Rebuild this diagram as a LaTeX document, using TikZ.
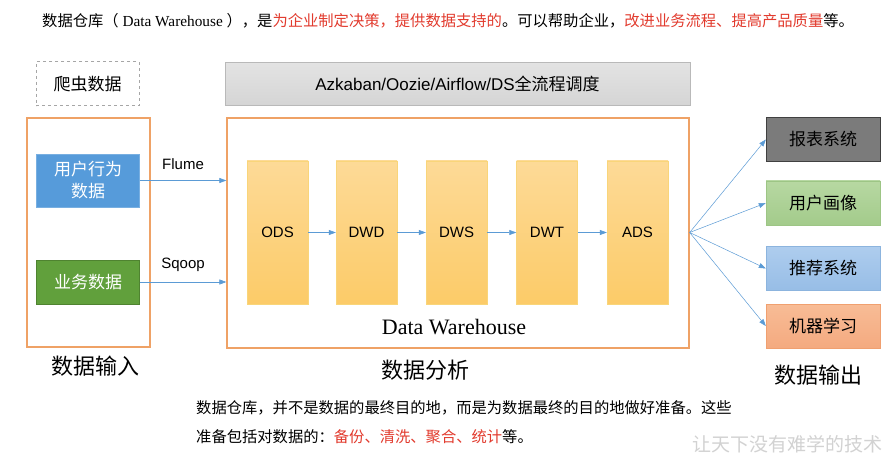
\documentclass[tikz,border=0pt]{standalone}
\usepackage{fontspec}
\setmainfont{Liberation Sans}
\newfontfamily\cjk{Noto Sans CJK SC}
\newfontfamily\serifLatin{Liberation Serif}
\usetikzlibrary{arrows.meta}

\definecolor{frameorange}{HTML}{EFA266}
\definecolor{flowblue}{HTML}{5B9BD5}
\definecolor{userblue}{HTML}{569BDA}
\definecolor{bizgreen}{HTML}{61A03C}
\definecolor{bizgreenedge}{HTML}{4F8330}
\definecolor{layertop}{HTML}{FDDA97}
\definecolor{layerbot}{HTML}{FCCB68}
\definecolor{layeredge}{HTML}{F9D57A}
\definecolor{hintred}{HTML}{E23B2E}
\definecolor{reportgray}{HTML}{7B7B7B}
\definecolor{portraittop}{HTML}{B7D8A2}
\definecolor{portraitbot}{HTML}{A3CB8B}
\definecolor{portraitedge}{HTML}{9DC585}
\definecolor{recotop}{HTML}{AECDEE}
\definecolor{recobot}{HTML}{97BDE6}
\definecolor{recoedge}{HTML}{8CB4DE}
\definecolor{mltop}{HTML}{F8BC96}
\definecolor{mlbot}{HTML}{F4AA80}
\definecolor{mledge}{HTML}{F0A070}

\newcommand{\fs}[1]{\fontsize{#1}{#1}\selectfont}

\tikzset{
  x=1pt, y=-1pt,
  frame/.style={draw=frameorange, line width=1.3pt, fill=white},
  srcbox/.style={minimum width=103pt, inner sep=0pt, text=white, font=\cjk\fontsize{17}{22}\selectfont, align=center},
  layer/.style={draw=layeredge, top color=layertop, bottom color=layerbot,
    minimum width=61pt, minimum height=143pt, inner sep=0pt, font=\fs{15}},
  outbox/.style={minimum width=114pt, minimum height=44pt, inner sep=0pt, font=\cjk\fs{17}},
  flow/.style={draw=flowblue, line width=0.6pt, -{Triangle[length=7pt,width=5pt]}},
  caption/.style={font=\cjk\fs{22}},
  edge label/.style={font=\fs{15}}
}

\begin{document}
\begin{tikzpicture}
\useasboundingbox (0,0) rectangle (890,454);
\fill[white] (0,0) rectangle (890,454);

% heading line
\node[anchor=west, font=\cjk\fs{15.3}, inner sep=0pt] (head) at (42,21)
  {数据仓库（{\serifLatin\ Data Warehouse }），是{\color{hintred}为企业制定决策，提供数据支持的}。可以帮助企业，{\color{hintred}改进业务流程、提高产品质量}等。};

% input column
\node[draw=gray!70, dashed, line width=1pt, minimum width=103pt, minimum height=44pt, inner sep=0pt,
  font=\cjk\fs{17}] (crawl) at (87.5,84) {爬虫数据};
\node[frame, minimum width=123pt, minimum height=229pt, inner sep=0pt] (input) at (88.5,232.5) {};
\node[srcbox, fill=userblue, draw=userblue!80!white, minimum height=53pt] (user) at (88,180.5) {用户行为\\数据};
\node[srcbox, fill=bizgreen, draw=bizgreenedge, minimum height=44pt] (biz) at (88,282) {业务数据};
\node[caption] (incap) at (95,366) {数据输入};

% scheduler bar
\node[draw=gray!55, top color=gray!22, bottom color=gray!33, minimum width=465pt, minimum height=43pt,
  inner sep=0pt] (sched) at (457.5,84)
  {\fs{17}Azkaban/Oozie/Airflow/DS{\cjk 全流程调度}};

% warehouse frame and layers
\node[frame, minimum width=462pt, minimum height=230pt, inner sep=0pt] (dw) at (458,233) {};
\node[layer] (ods) at (277.5,232.5) {ODS};
\node[layer] (dwd) at (366.5,232.5) {DWD};
\node[layer] (dws) at (456.5,232.5) {DWS};
\node[layer] (dwt) at (547,232.5) {DWT};
\node[layer] (ads) at (637.5,232.5) {ADS};
\node[font=\serifLatin\fs{22}] (dwname) at (454,327) {Data Warehouse};
\node[caption] (ancap) at (425,370) {数据分析};

\draw[flow] (ods) -- (dwd);
\draw[flow] (dwd) -- (dws);
\draw[flow] (dws) -- (dwt);
\draw[flow] (dwt) -- (ads);

% ingestion
\draw[flow] (user.east) -- (user.east -| dw.west) node[edge label, midway, above=7pt] {Flume};
\draw[flow] (biz.east) -- (biz.east -| dw.west) node[edge label, midway, above=7pt] {Sqoop};

% output column
\node[outbox, fill=reportgray, draw=black!75] (report) at (823,139.5) {报表系统};
\node[outbox, top color=portraittop, bottom color=portraitbot, draw=portraitedge] (portrait) at (823,203) {用户画像};
\node[outbox, top color=recotop, bottom color=recobot, draw=recoedge] (recommend) at (823,268.5) {推荐系统};
\node[outbox, top color=mltop, bottom color=mlbot, draw=mledge] (ml) at (823,326) {机器学习};
\node[caption] (outcap) at (818,375) {数据输出};

\coordinate (fan) at (dw.east |- ads);
\draw[flow, line width=0.5pt] (fan) -- (report.west);
\draw[flow, line width=0.5pt] (fan) -- (portrait.west);
\draw[flow, line width=0.5pt] (fan) -- (recommend.west);
\draw[flow, line width=0.5pt] (fan) -- (ml.west);

% closing remark
\node[anchor=west, font=\cjk\fs{15.3}, inner sep=0pt] (note1) at (196,408)
  {数据仓库，并不是数据的最终目的地，而是为数据最终的目的地做好准备。这些};
\node[anchor=west, font=\cjk\fs{15.3}, inner sep=0pt] (note2) at (196,437)
  {准备包括对数据的：{\color{hintred}备份、清洗、聚合、统计}等。};

% faint slogan in the corner
\node[anchor=west, font=\cjk\fs{19}, text=gray!35, inner sep=0pt] (slogan) at (692,444) {让天下没有难学的技术};
\end{tikzpicture}
\end{document}
